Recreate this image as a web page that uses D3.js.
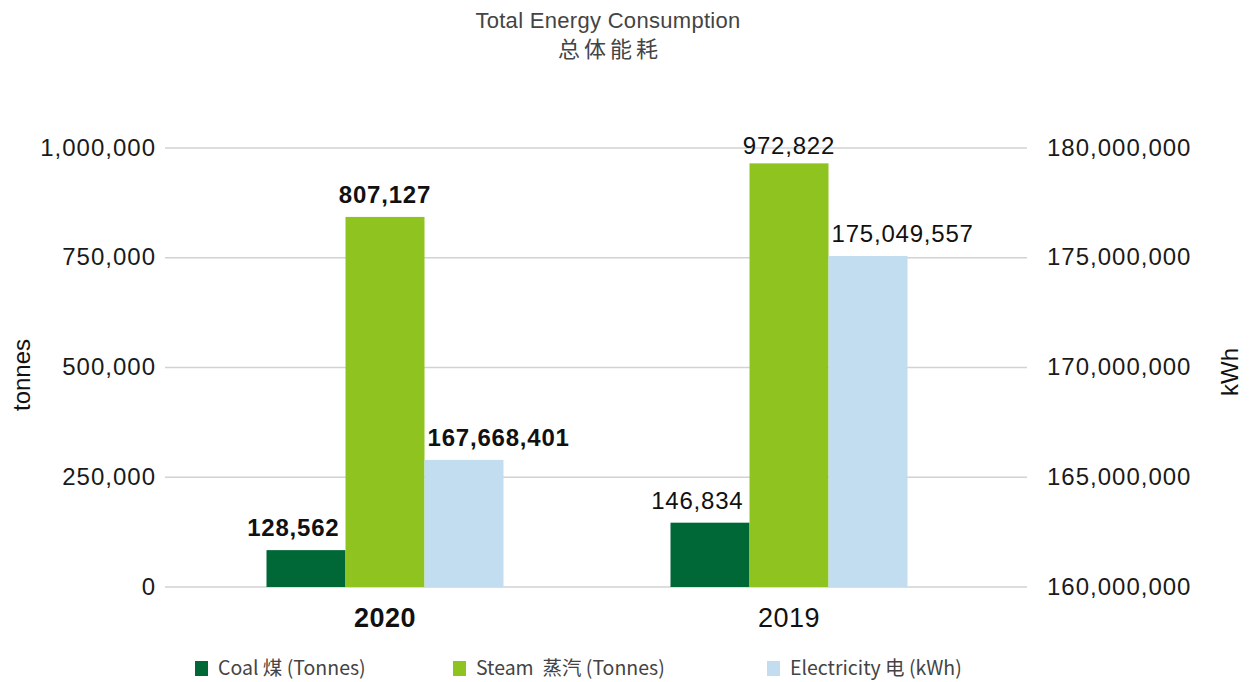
<html>
<head>
<meta charset="utf-8">
<title>Total Energy Consumption</title>
<script src="https://d3js.org/d3.v7.min.js"></script>
<style>
body { margin: 0; background: white; }
text { font-family: "Liberation Sans", Arial, sans-serif; }
.tick text { font-size: 24px; fill: #1a1a1a; letter-spacing: 1px; }
.cjk { font-family: "Liberation Sans", "Noto Sans CJK SC", sans-serif; }
</style>
</head>
<body>
<svg width="1249" height="682"></svg>
<script>
// data
var years = ["2020", "2019"];
var series = ["Coal", "Steam", "Electricity"];
var legendLabels = ["Coal 煤 (Tonnes)", "Steam  蒸汽 (Tonnes)", "Electricity 电 (kWh)"];
var colors = ["#006837", "#8fc31f", "#c2ddef"];
// bar heights as drawn
var coal = [84000, 146500];
var steam = [843000, 965000];
var electricity = [165790000, 175080000];
// value labels as printed
var coalLabels = ["128,562", "146,834"];
var steamLabels = ["807,127", "972,822"];
var electricityLabels = ["167,668,401", "175,049,557"];
var leftTicks = [0, 250000, 500000, 750000, 1000000];
var rightTicks = [160000000, 165000000, 170000000, 175000000, 180000000];

var svg = d3.select("svg");
var plotTop = 148, plotBottom = 587, gridL = 165, gridR = 1027;

var yL = d3.scaleLinear().domain([0, 1000000]).range([plotBottom, plotTop]);
var yR = d3.scaleLinear().domain([160000000, 180000000]).range([plotBottom, plotTop]);
var x0 = d3.scaleBand().domain(years).range([183, 991]).padding(0);
var x1 = d3.scaleBand().domain(series).range([83.5, 320.5]).padding(0);

// gridlines
svg.append("g").selectAll("line").data(leftTicks).enter().append("line")
  .attr("x1", gridL).attr("x2", gridR)
  .attr("y1", function(d) { return yL(d); }).attr("y2", function(d) { return yL(d); })
  .attr("stroke", "#d2d2d2").attr("stroke-width", 1.6);

// axes
var fmt = d3.format(",");
svg.append("g").attr("transform", "translate(156,0)")
  .call(d3.axisLeft(yL).tickValues(leftTicks).tickFormat(fmt).tickSize(0).tickPadding(0))
  .call(function(g) { g.select(".domain").remove(); })
  .selectAll("text").attr("dy", "0.3em");
svg.append("g").attr("transform", "translate(1047,0)")
  .call(d3.axisRight(yR).tickValues(rightTicks).tickFormat(fmt).tickSize(0).tickPadding(0))
  .call(function(g) { g.select(".domain").remove(); })
  .selectAll("text").attr("dy", "0.3em");

// bars
var rows = [];
years.forEach(function(yr, i) {
  rows.push({year: yr, s: "Coal", v: coal[i], lab: coalLabels[i], y: yL, anchor: "end", bold: i == 0});
  rows.push({year: yr, s: "Steam", v: steam[i], lab: steamLabels[i], y: yL, anchor: "middle", bold: i == 0});
  rows.push({year: yr, s: "Electricity", v: electricity[i], lab: electricityLabels[i], y: yR, anchor: "start", bold: i == 0});
});

var g = svg.append("g");
g.selectAll("rect").data(rows).enter().append("rect")
  .attr("x", function(d) { return x0(d.year) + x1(d.s); })
  .attr("width", x1.bandwidth())
  .attr("y", function(d) { return d.y(d.v); })
  .attr("height", function(d) { return plotBottom - d.y(d.v); })
  .attr("fill", function(d) { return colors[series.indexOf(d.s)]; });

g.selectAll("text.val").data(rows).enter().append("text")
  .attr("class", "val")
  .attr("x", function(d) {
    var bx = x0(d.year) + x1(d.s);
    if (d.anchor == "end") return bx + x1.bandwidth() - 6;
    if (d.anchor == "start") return bx + 3;
    return bx + x1.bandwidth() / 2;
  })
  .attr("y", function(d) { return Math.max(d.y(d.v) - 14, plotTop + 6); })
  .attr("text-anchor", function(d) { return d.anchor; })
  .style("font-size", "24px")
  .style("letter-spacing", "0.8px")
  .style("font-weight", function(d) { return d.bold ? "bold" : "normal"; })
  .attr("fill", "#111")
  .text(function(d) { return d.lab; });

// category labels
svg.append("g").selectAll("text").data(years).enter().append("text")
  .attr("x", function(d) { return x0(d) + x0.bandwidth() / 2; })
  .attr("y", 627)
  .attr("text-anchor", "middle")
  .style("font-size", "27px")
  .style("letter-spacing", "0.5px")
  .style("font-weight", function(d, i) { return i == 0 ? "bold" : "normal"; })
  .attr("fill", "#111")
  .text(function(d) { return d; });

// axis titles
svg.append("text").attr("transform", "translate(30,375) rotate(-90)")
  .attr("text-anchor", "middle").style("font-size", "24px").attr("fill", "#111").text("tonnes");
svg.append("text").attr("transform", "translate(1238,372) rotate(-90)")
  .attr("text-anchor", "middle").style("font-size", "24px").attr("fill", "#111").text("kWh");

// title
svg.append("text").attr("class", "cjk").attr("x", 608).attr("y", 28)
  .attr("text-anchor", "middle").style("font-size", "22px").style("letter-spacing", "0.3px").attr("fill", "#444")
  .text("Total Energy Consumption");
svg.append("text").attr("class", "cjk").attr("x", 610).attr("y", 57)
  .attr("text-anchor", "middle").style("font-size", "22px").style("letter-spacing", "4px").attr("fill", "#444")
  .text("总体能耗");

// legend
var legX = [195, 453, 767];
var leg = svg.append("g").selectAll("g").data(legendLabels).enter().append("g")
  .attr("transform", function(d, i) { return "translate(" + legX[i] + ",661)"; });
leg.append("rect").attr("width", 13).attr("height", 15)
  .attr("fill", function(d, i) { return colors[i]; });
leg.append("text").attr("class", "cjk").attr("x", 23).attr("y", 14)
  .style("font-family", "'Liberation Sans Narrow', 'Noto Sans CJK SC', sans-serif")
  .style("font-size", "19.5px").attr("fill", "#444")
  .style("white-space", "pre")
  .text(function(d) { return d; });
</script>
</body>
</html>
